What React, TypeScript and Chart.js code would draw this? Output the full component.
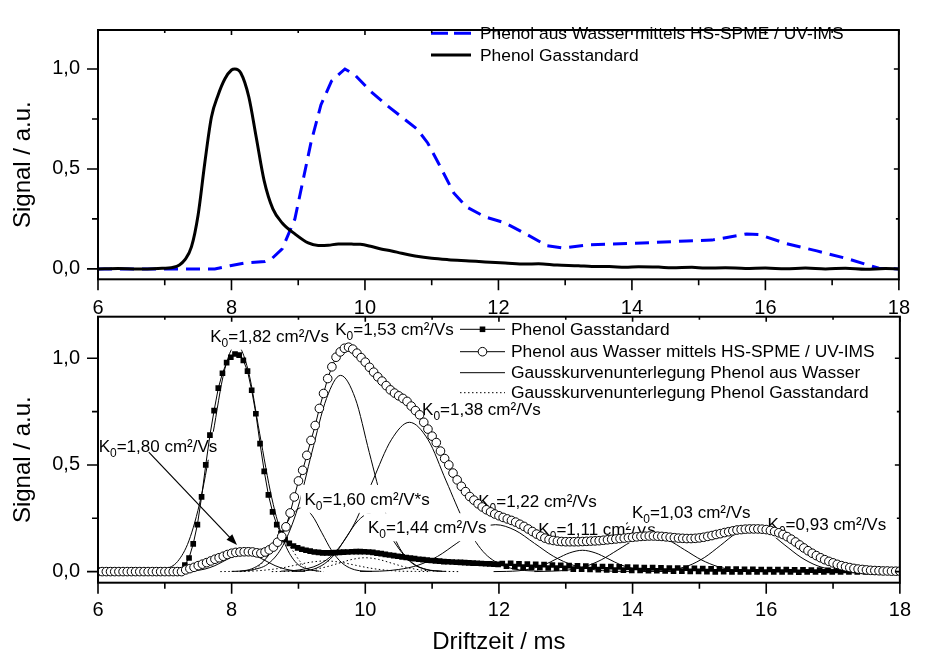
import React, { useEffect, useRef } from "react";
import { Chart, registerables } from "chart.js";
Chart.register(...registerables);

// ---------------- DATA ----------------
// Top plot: normalised spectra
const topGasX = [6.0, 6.3, 6.6, 6.9, 7.13, 7.22, 7.3, 7.4, 7.5, 7.6, 7.7, 7.8, 7.9, 8.0, 8.05, 8.14, 8.26, 8.37, 8.49, 8.62, 8.76, 8.95, 9.15, 9.3, 9.45, 9.6, 9.8, 9.93, 10.1, 10.24, 10.4, 10.55, 10.75, 11.0, 11.25, 11.56, 11.8, 12.1, 12.4, 12.6, 12.88, 13.2, 13.4, 13.66, 13.9, 14.1, 14.4, 14.6, 14.9, 15.1, 15.4, 15.7, 16.0, 16.3, 16.6, 16.9, 17.2, 17.5, 17.8, 18.0];
const topGasY = [0.0, 0.002, -0.001, 0.002, 0.008, 0.02, 0.045, 0.11, 0.27, 0.53, 0.76, 0.87, 0.95, 0.995, 1.0, 0.98, 0.86, 0.66, 0.44, 0.3, 0.23, 0.175, 0.13, 0.117, 0.118, 0.125, 0.124, 0.123, 0.112, 0.1, 0.09, 0.078, 0.065, 0.053, 0.046, 0.04, 0.035, 0.03, 0.024, 0.026, 0.019, 0.016, 0.012, 0.012, 0.008, 0.011, 0.009, 0.006, 0.008, 0.004, 0.006, 0.002, 0.004, 0.001, 0.004, 0.0, 0.003, -0.002, 0.002, 0.0];
const topWaterX = [6.0, 7.0, 7.75, 7.98, 8.2, 8.5, 8.6, 8.76, 8.95, 9.07, 9.19, 9.34, 9.5, 9.7, 9.85, 10.08, 10.32, 10.55, 10.78, 10.94, 11.1, 11.33, 11.52, 11.8, 12.1, 12.41, 12.73, 12.96, 13.35, 14.05, 14.82, 15.2, 15.72, 15.9, 16.3, 16.77, 17.24, 17.7, 18.0];
const topWaterY = [0.0, 0.0, 0.0, 0.016, 0.03, 0.037, 0.05, 0.1, 0.25, 0.44, 0.63, 0.82, 0.94, 1.0, 0.97, 0.89, 0.82, 0.76, 0.7, 0.63, 0.53, 0.38, 0.31, 0.26, 0.23, 0.175, 0.116, 0.105, 0.12, 0.128, 0.14, 0.144, 0.175, 0.172, 0.128, 0.09, 0.05, 0.003, 0.0];

// Bottom plot: measured points (drift time grid = start + index * step)
const gasStart = 7.3;
const gasStep = 0.0625;
const gasY = [
  0.031, 0.064, 0.13, 0.22, 0.35, 0.5, 0.64, 0.755, 0.86, 0.93, 0.98, 1.005,
  1.02, 1.015, 0.99, 0.94, 0.85, 0.74, 0.6, 0.47, 0.36, 0.28, 0.22, 0.18,
  0.15, 0.132, 0.12, 0.111, 0.105, 0.1, 0.096, 0.092, 0.09, 0.088,
  0.088, 0.088, 0.089, 0.09, 0.091, 0.092, 0.093, 0.094, 0.094, 0.093,
  0.092, 0.09, 0.087, 0.084, 0.081, 0.078, 0.075, 0.072, 0.069, 0.066,
  0.063, 0.061, 0.058, 0.056, 0.054, 0.052, 0.05, 0.049, 0.047, 0.046,
  0.045, 0.044, 0.043, 0.042, 0.041, 0.04, 0.039, 0.038, 0.037, 0.036,
  0.035, 0.034,
  0.038, 0.025, 0.039, 0.023, 0.036, 0.021, 0.035, 0.02, 0.034, 0.019, 0.033, 0.017, 0.031, 0.016, 0.03, 0.015,
  0.028, 0.012, 0.027, 0.011, 0.026, 0.01, 0.025, 0.009, 0.024, 0.008, 0.023, 0.007, 0.022, 0.007, 0.021, 0.006,
  0.02, 0.005, 0.019, 0.004, 0.019, 0.004, 0.018, 0.003, 0.017, 0.002, 0.017, 0.002, 0.016, 0.001, 0.015, 0.001,
  0.014, 0.0, 0.013, -0.001, 0.013, 0.0, 0.012, -0.002, 0.012, -0.001, 0.011, -0.002, 0.011, -0.001, 0.01, -0.002,
  0.01, -0.001, 0.009, -0.002, 0.009, -0.001, 0.008, -0.003, 0.008, -0.001, 0.007, -0.002, 0.007, -0.001, 0.006, -0.002,
  0.006, -0.001, 0.005, -0.002, 0.005, -0.001, 0.004, -0.002, 0.004, -0.001, 0.003, -0.001, 0.003, 0.0, 0.002,
];
const waterStart = 6.0;
const waterStep = 0.0625;
const waterY = [
  0, 0, 0, 0, 0, 0, 0, 0, 0, 0, 0, 0, 0, 0, 0, 0, 0, 0, 0, 0, 0,
  0.008, 0.014, 0.02, 0.028, 0.035, 0.042, 0.05, 0.058, 0.065, 0.072, 0.08, 0.086, 0.09, 0.092, 0.093, 0.093, 0.092, 0.088, 0.086, 0.092,
  0.102, 0.115, 0.138, 0.165, 0.21, 0.275, 0.35, 0.425, 0.475, 0.545, 0.615, 0.685, 0.765, 0.835, 0.905, 0.96, 1.005, 1.03, 1.047, 1.052,
  1.043, 1.024, 1.003, 0.982, 0.958, 0.935, 0.913, 0.893, 0.872, 0.852, 0.837, 0.824, 0.812, 0.798, 0.776, 0.755, 0.735, 0.7, 0.668, 0.635,
  0.605, 0.565, 0.53, 0.5, 0.462, 0.43, 0.4, 0.375, 0.352, 0.335, 0.318, 0.303, 0.29, 0.28, 0.27, 0.262, 0.254, 0.247, 0.24, 0.232,
  0.222, 0.212, 0.2, 0.188, 0.176, 0.166, 0.157, 0.15, 0.146, 0.143, 0.141, 0.14, 0.14, 0.14, 0.14, 0.141, 0.142, 0.143, 0.144, 0.145,
  0.147, 0.149, 0.151, 0.153, 0.155, 0.157, 0.159, 0.161, 0.163, 0.165, 0.166, 0.167, 0.167, 0.166, 0.165, 0.163, 0.161, 0.159, 0.157, 0.156,
  0.155, 0.155, 0.156, 0.158, 0.161, 0.165, 0.169, 0.174, 0.178, 0.183, 0.187, 0.191, 0.195, 0.197, 0.199, 0.2, 0.2, 0.2, 0.199, 0.197,
  0.193, 0.188, 0.182, 0.174, 0.164, 0.152, 0.139, 0.125, 0.111, 0.098, 0.086, 0.075, 0.065, 0.056, 0.048, 0.041, 0.034, 0.028, 0.023, 0.019,
  0.015, 0.012, 0.01, 0.008, 0.006, 0.005, 0.004, 0.003, 0.003, 0.002, 0.002, 0.002,
];

// Gaussian sub-curves
const fit182X = [6.83, 7.01, 7.19, 7.36, 7.54, 7.72, 7.89, 8.07, 8.25, 8.42, 8.6, 8.78, 8.95, 9.13, 9.31];
const fit182Y = [0.002, 0.012, 0.047, 0.144, 0.346, 0.646, 0.94, 1.065, 0.94, 0.646, 0.346, 0.144, 0.047, 0.012, 0.002];
const fit180X = [7.3, 7.45, 7.6, 7.75, 7.9, 8.05, 8.2, 8.35, 8.5, 8.65, 8.8, 8.95, 9.1];
const fit180Y = [0.001, 0.004, 0.012, 0.028, 0.052, 0.075, 0.085, 0.075, 0.052, 0.028, 0.012, 0.004, 0.001];
const fit160X = [8.0, 8.15, 8.3, 8.45, 8.6, 8.75, 8.9, 9.05, 9.2, 9.35, 9.5, 9.65, 9.8, 9.95, 10.1];
const fit160Y = [0.001, 0.003, 0.013, 0.041, 0.097, 0.182, 0.265, 0.3, 0.265, 0.182, 0.097, 0.041, 0.013, 0.003, 0.001];
const fit153X = [8.13, 8.34, 8.56, 8.77, 8.99, 9.2, 9.42, 9.63, 9.85, 10.06, 10.28, 10.49, 10.71, 10.92, 11.14];
const fit153Y = [0.002, 0.01, 0.04, 0.124, 0.299, 0.558, 0.812, 0.92, 0.812, 0.558, 0.299, 0.124, 0.04, 0.01, 0.002];
const fit144X = [8.9, 9.06, 9.23, 9.39, 9.56, 9.72, 9.89, 10.05, 10.22, 10.38, 10.55, 10.71, 10.88, 11.04, 11.21];
const fit144Y = [0.001, 0.003, 0.012, 0.037, 0.088, 0.164, 0.238, 0.27, 0.238, 0.164, 0.088, 0.037, 0.012, 0.003, 0.001];
const fit138X = [8.74, 9.01, 9.29, 9.56, 9.84, 10.11, 10.39, 10.66, 10.94, 11.21, 11.49, 11.76, 12.04, 12.31, 12.59];
const fit138Y = [0.002, 0.008, 0.031, 0.095, 0.227, 0.425, 0.618, 0.7, 0.618, 0.425, 0.227, 0.095, 0.031, 0.008, 0.002];
const fit122X = [9.92, 10.21, 10.5, 10.79, 11.08, 11.37, 11.66, 11.95, 12.24, 12.53, 12.82, 13.11, 13.4, 13.69, 13.98];
const fit122Y = [0.001, 0.002, 0.01, 0.03, 0.071, 0.133, 0.194, 0.22, 0.194, 0.133, 0.071, 0.03, 0.01, 0.002, 0.001];
const fit111X = [11.92, 12.11, 12.3, 12.49, 12.68, 12.87, 13.06, 13.25, 13.44, 13.63, 13.82, 14.01, 14.2, 14.39, 14.58];
const fit111Y = [0.0, 0.001, 0.004, 0.014, 0.032, 0.061, 0.088, 0.1, 0.088, 0.061, 0.032, 0.014, 0.004, 0.001, 0.0];
const fit103X = [12.53, 12.78, 13.03, 13.28, 13.53, 13.78, 14.03, 14.28, 14.53, 14.78, 15.03, 15.28, 15.53, 15.78, 16.03];
const fit103Y = [0.0, 0.002, 0.007, 0.023, 0.055, 0.102, 0.148, 0.168, 0.148, 0.102, 0.055, 0.023, 0.007, 0.002, 0.0];
const fit093X = [14.12, 14.36, 14.6, 14.84, 15.08, 15.32, 15.56, 15.8, 16.04, 16.28, 16.52, 16.76, 17.0, 17.24, 17.48];
const fit093Y = [0.0, 0.002, 0.009, 0.028, 0.067, 0.124, 0.181, 0.205, 0.181, 0.124, 0.067, 0.028, 0.009, 0.002, 0.0];
const gasSub1X = [8.12, 8.21, 8.3, 8.39, 8.48, 8.57, 8.66, 8.75, 8.84, 8.93, 9.02, 9.11, 9.2, 9.29, 9.38];
const gasSub1Y = [0.0, 0.002, 0.007, 0.02, 0.049, 0.091, 0.132, 0.15, 0.132, 0.091, 0.049, 0.02, 0.007, 0.002, 0.0];
const gasSub2X = [7.83, 8.05, 8.28, 8.5, 8.73, 8.95, 9.18, 9.4, 9.63, 9.85, 10.08, 10.3, 10.53, 10.75, 10.98];
const gasSub2Y = [0.0, 0.001, 0.002, 0.007, 0.016, 0.03, 0.044, 0.05, 0.044, 0.03, 0.016, 0.007, 0.002, 0.001, 0.0];
const gasSub3X = [8.6, 8.8, 9.0, 9.2, 9.4, 9.6, 9.8, 10.0, 10.2, 10.4, 10.6, 10.8, 11.0, 11.2, 11.4];
const gasSub3Y = [0.0, 0.001, 0.003, 0.009, 0.021, 0.039, 0.057, 0.065, 0.057, 0.039, 0.021, 0.009, 0.003, 0.001, 0.0];

// Axis ticks
const xTickValues = [6, 7, 8, 9, 10, 11, 12, 13, 14, 15, 16, 17, 18];
const yTickValues = [0, 0.25, 0.5, 0.75, 1.0];

// Text
const legendTop = ["Phenol aus Wasser mittels HS-SPME / UV-IMS", "Phenol Gasstandard"];
const legendBottom = [
  "Phenol Gasstandard",
  "Phenol aus Wasser mittels HS-SPME / UV-IMS",
  "Gausskurvenunterlegung Phenol aus Wasser",
  "Gausskurvenunterlegung Phenol Gasstandard",
];
const k0Texts = ["1,82 cm²/Vs", "1,53 cm²/Vs", "1,38 cm²/Vs", "1,80 cm²/Vs", "1,60 cm²/V*s", "1,44 cm²/Vs", "1,22 cm²/Vs", "1,11 cm²/Vs", "1,03 cm²/Vs", "0,93 cm²/Vs"];

// ---------------- LAYOUT / STYLE ----------------
const W = 927;
const H = 659;
const FONT = "'Liberation Sans', Arial, Helvetica, sans-serif";
// annotation anchors in data coordinates (left edge, vertical centre)
const k0Anchors = [
  [7.68, 1.106], [9.55, 1.137], [10.85, 0.762], [6.01, 0.59], [9.09, 0.341],
  [10.04, 0.208], [11.69, 0.333], [12.59, 0.2], [13.99, 0.278], [16.02, 0.224],
];
const arrowFrom = [6.76, 0.56];
const arrowTo = [8.08, 0.125];

const pts = (xs: number[], ys: number[]) => xs.map((x, i) => ({ x, y: ys[i] }));
const gridPts = (start: number, step: number, ys: number[]) => ys.map((y, i) => ({ x: start + i * step, y }));
const fmtY = (v: number) => v.toFixed(1).replace(".", ",");

const frameTicksPlugin = {
  id: "frameTicks",
  afterDraw(chart: any) {
    const { ctx, chartArea: a, scales } = chart;
    ctx.save();
    ctx.strokeStyle = "#000";
    ctx.lineWidth = 2;
    ctx.strokeRect(a.left, a.top, a.right - a.left, a.bottom - a.top);
    ctx.lineWidth = 1.6;
    ctx.beginPath();
    for (const t of scales.x.ticks) {
      const px = scales.x.getPixelForValue(t.value);
      const major = t.value % 2 === 0;
      ctx.moveTo(px, a.bottom);
      ctx.lineTo(px, a.bottom + (major ? 11 : 6));
      ctx.moveTo(px, a.top);
      ctx.lineTo(px, a.top + (major ? 5 : 3));
    }
    for (const t of scales.y.ticks) {
      const py = scales.y.getPixelForValue(t.value);
      const major = Math.abs(t.value * 2 - Math.round(t.value * 2)) < 1e-6;
      ctx.moveTo(a.left, py);
      ctx.lineTo(a.left - (major ? 11 : 6), py);
      ctx.moveTo(a.right, py);
      ctx.lineTo(a.right - (major ? 5 : 3), py);
    }
    ctx.stroke();
    ctx.restore();
  },
};

function scalesFor(opts: { xHeight: number; xPad: number; xTitle?: string; yTitle: string }) {
  return {
    x: {
      type: "linear",
      min: 6,
      max: 18,
      afterBuildTicks: (s: any) => {
        s.ticks = xTickValues.map((v) => ({ value: v }));
      },
      afterFit: (s: any) => {
        s.height = opts.xHeight;
      },
      grid: { display: false, drawTicks: false },
      border: { display: false },
      ticks: {
        autoSkip: false,
        maxRotation: 0,
        padding: opts.xPad,
        color: "#000",
        font: { family: FONT, size: 20 },
        callback: (v: number) => (v % 2 === 0 ? String(v) : ""),
      },
      title: opts.xTitle
        ? { display: true, text: opts.xTitle, color: "#000", font: { family: FONT, size: 24 }, padding: { top: 0, bottom: 2 } }
        : { display: false },
    },
    y: {
      type: "linear",
      min: -0.052,
      max: 1.195,
      afterBuildTicks: (s: any) => {
        s.ticks = yTickValues.map((v) => ({ value: v }));
      },
      afterFit: (s: any) => {
        s.width = 98;
      },
      grid: { display: false, drawTicks: false },
      border: { display: false },
      ticks: {
        autoSkip: false,
        padding: 18,
        color: "#000",
        font: { family: FONT, size: 20 },
        callback: (v: number) => (Math.abs(v * 2 - Math.round(v * 2)) < 1e-6 ? fmtY(v) : ""),
      },
      title: { display: true, text: opts.yTitle, color: "#000", font: { family: FONT, size: 24 }, padding: { top: 8.6, bottom: 0 } },
    },
  };
}

const topLegendPlugin = {
  id: "topLegend",
  afterDatasetsDraw(chart: any) {
    const ctx = chart.ctx;
    ctx.save();
    const rows = [33.3, 55];
    ctx.lineWidth = 3;
    ctx.strokeStyle = "#0000ff";
    ctx.setLineDash([17, 6]);
    ctx.beginPath();
    ctx.moveTo(431, rows[0]);
    ctx.lineTo(471, rows[0]);
    ctx.stroke();
    ctx.setLineDash([]);
    ctx.strokeStyle = "#000";
    ctx.beginPath();
    ctx.moveTo(431, rows[1]);
    ctx.lineTo(471, rows[1]);
    ctx.stroke();
    ctx.fillStyle = "#000";
    ctx.font = `17.4px ${FONT}`;
    ctx.textBaseline = "middle";
    ctx.textAlign = "left";
    legendTop.forEach((t, i) => ctx.fillText(t, 480, rows[i] + 1));
    ctx.restore();
  },
};

function drawK0(ctx: any, x: number, y: number, value: string) {
  const rest = "=" + value;
  ctx.font = `17px ${FONT}`;
  const wK = ctx.measureText("K").width;
  const wR = ctx.measureText(rest).width;
  ctx.font = `12px ${FONT}`;
  const w0 = ctx.measureText("0").width;
  const total = wK + w0 + wR;
  ctx.fillStyle = "#fff";
  ctx.fillRect(x - 4, y - 14, total + 8, 28);
  ctx.fillStyle = "#000";
  ctx.textAlign = "left";
  ctx.textBaseline = "alphabetic";
  const base = y + 6;
  ctx.font = `17px ${FONT}`;
  ctx.fillText("K", x, base);
  ctx.font = `12px ${FONT}`;
  ctx.fillText("0", x + wK, base + 5);
  ctx.font = `17px ${FONT}`;
  ctx.fillText(rest, x + wK + w0, base);
}

const bottomDecorPlugin = {
  id: "bottomDecor",
  beforeDatasetDraw(chart: any, args: any) {
    const ds = chart.data.datasets[args.index];
    if (ds.kind !== "gas") return;
    const { ctx, scales } = chart;
    ctx.save();
    k0Texts.forEach((t, i) => {
      const [dx, dy] = k0Anchors[i];
      drawK0(ctx, scales.x.getPixelForValue(dx), scales.y.getPixelForValue(dy), t);
    });
    const x1 = scales.x.getPixelForValue(arrowFrom[0]);
    const y1 = scales.y.getPixelForValue(arrowFrom[1]);
    const x2 = scales.x.getPixelForValue(arrowTo[0]);
    const y2 = scales.y.getPixelForValue(arrowTo[1]);
    const ang = Math.atan2(y2 - y1, x2 - x1);
    const hl = 11, hw = 4;
    ctx.strokeStyle = "#000";
    ctx.lineWidth = 1.2;
    ctx.beginPath();
    ctx.moveTo(x1, y1);
    ctx.lineTo(x2 - Math.cos(ang) * hl * 0.8, y2 - Math.sin(ang) * hl * 0.8);
    ctx.stroke();
    ctx.fillStyle = "#000";
    ctx.beginPath();
    ctx.moveTo(x2, y2);
    ctx.lineTo(x2 - Math.cos(ang) * hl - Math.sin(ang) * hw, y2 - Math.sin(ang) * hl + Math.cos(ang) * hw);
    ctx.lineTo(x2 - Math.cos(ang) * hl + Math.sin(ang) * hw, y2 - Math.sin(ang) * hl - Math.cos(ang) * hw);
    ctx.closePath();
    ctx.fill();
    ctx.restore();
  },
  afterDatasetsDraw(chart: any) {
    const ctx = chart.ctx;
    ctx.save();
    const rows = [329.3, 351.7, 372.7, 392.7];
    const x0 = 460, x1 = 505, xm = 482.5;
    ctx.strokeStyle = "#000";
    ctx.lineWidth = 1;
    rows.forEach((y, i) => {
      ctx.setLineDash(i === 3 ? [1.5, 2.5] : []);
      ctx.beginPath();
      ctx.moveTo(x0, y);
      ctx.lineTo(x1, y);
      ctx.stroke();
    });
    ctx.setLineDash([]);
    ctx.fillStyle = "#000";
    ctx.fillRect(xm - 2.8, rows[0] - 2.8, 5.6, 5.6);
    ctx.fillStyle = "#fff";
    ctx.beginPath();
    ctx.arc(xm, rows[1], 4.3, 0, Math.PI * 2);
    ctx.fill();
    ctx.stroke();
    ctx.fillStyle = "#000";
    ctx.font = `17.4px ${FONT}`;
    ctx.textBaseline = "middle";
    ctx.textAlign = "left";
    legendBottom.forEach((t, i) => ctx.fillText(t, 511, rows[i] + 1));
    ctx.restore();
  },
};

function fitLine(xs: number[], ys: number[], dotted = false) {
  return {
    data: pts(xs, ys),
    borderColor: "#000",
    borderWidth: 1,
    borderDash: dotted ? [1.5, 2.5] : [],
    pointRadius: 0,
    cubicInterpolationMode: "monotone",
    order: 5,
  };
}

export default function App() {
  const topRef = useRef<HTMLCanvasElement>(null);
  const botRef = useRef<HTMLCanvasElement>(null);

  useEffect(() => {
    document.body.style.margin = "0";
    const top = new Chart(topRef.current as any, {
      type: "line",
      data: {
        datasets: [
          {
            data: pts(topWaterX, topWaterY),
            borderColor: "#0000ff",
            borderWidth: 3,
            borderDash: [14, 8],
            pointRadius: 0,
            tension: 0,
            order: 2,
          },
          {
            data: pts(topGasX, topGasY),
            borderColor: "#000",
            borderWidth: 3,
            pointRadius: 0,
            cubicInterpolationMode: "monotone",
            order: 1,
          },
        ],
      },
      options: {
        animation: false,
        responsive: false,
        events: [],
        layout: { padding: { left: 0, right: 14, top: 11.7, bottom: H - 320 } },
        plugins: { legend: { display: false }, tooltip: { enabled: false } },
        scales: scalesFor({ xHeight: 40.7, xPad: 17, yTitle: "Signal / a.u.   " }) as any,
      },
      plugins: [frameTicksPlugin, topLegendPlugin],
    } as any);

    const bottom = new Chart(botRef.current as any, {
      type: "line",
      data: {
        datasets: [
          fitLine(fit182X, fit182Y),
          fitLine(fit180X, fit180Y),
          fitLine(fit160X, fit160Y),
          fitLine(fit153X, fit153Y),
          fitLine(fit144X, fit144Y),
          fitLine(fit138X, fit138Y),
          fitLine(fit122X, fit122Y),
          fitLine(fit111X, fit111Y),
          fitLine(fit103X, fit103Y),
          fitLine(fit093X, fit093Y),
          fitLine(gasSub1X, gasSub1Y, true),
          fitLine(gasSub2X, gasSub2Y, true),
          fitLine(gasSub3X, gasSub3Y, true),
          {
            kind: "gas",
            data: gridPts(gasStart, gasStep, gasY),
            borderColor: "#000",
            borderWidth: 1,
            pointStyle: "rect",
            pointRadius: 4,
            pointBackgroundColor: "#000",
            pointBorderColor: "#000",
            pointBorderWidth: 0,
            tension: 0,
            order: 2,
          },
          {
            kind: "water",
            data: gridPts(waterStart, waterStep, waterY),
            borderColor: "#000",
            borderWidth: 1,
            pointStyle: "circle",
            pointRadius: 4.3,
            pointBackgroundColor: "#fff",
            pointBorderColor: "#000",
            pointBorderWidth: 1,
            tension: 0,
            order: 1,
          },
        ],
      },
      options: {
        animation: false,
        responsive: false,
        events: [],
        layout: { padding: { left: 0, right: 14, top: 316.7, bottom: 0 } },
        plugins: { legend: { display: false }, tooltip: { enabled: false } },
        scales: scalesFor({ xHeight: 76.3, xPad: 16, xTitle: "Driftzeit / ms", yTitle: "Signal / a.u.   " }) as any,
      },
      plugins: [frameTicksPlugin, bottomDecorPlugin],
    } as any);

    return () => {
      top.destroy();
      bottom.destroy();
    };
  }, []);

  const cs: React.CSSProperties = { position: "absolute", left: 0, top: 0, width: W, height: H };
  return (
    <div style={{ position: "relative", width: W, height: H, background: "#fff" }}>
      <canvas ref={topRef} width={W} height={H} style={cs} />
      <canvas ref={botRef} width={W} height={H} style={cs} />
    </div>
  );
}
